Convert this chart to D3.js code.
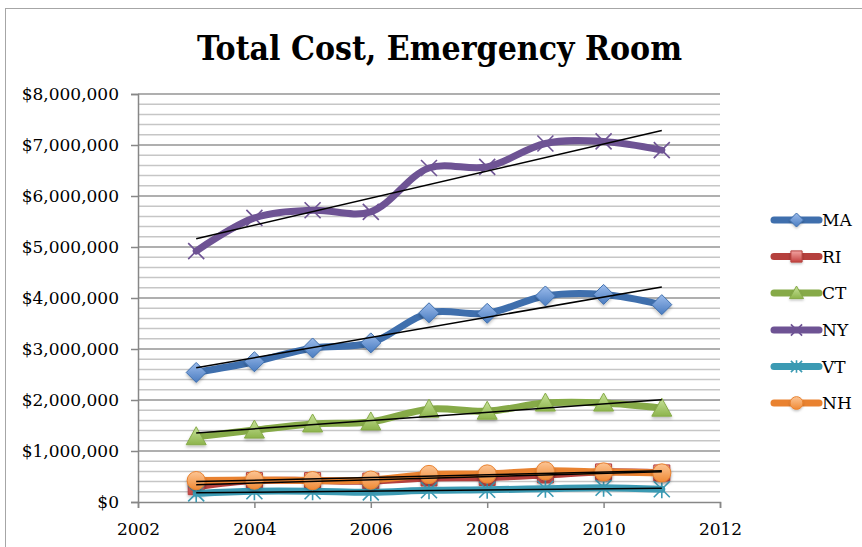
<!DOCTYPE html>
<html>
<head>
<meta charset="utf-8">
<script src="https://cdn.jsdelivr.net/npm/d3@7"></script>
<style>
  body { margin: 0; background: #fff; }
  text { font-family: "DejaVu Serif", "Liberation Serif", serif; }
</style>
</head>
<body>
<svg id="chart" width="862" height="547"></svg>
<script>
// ---- data ----
const years = [2003, 2004, 2005, 2006, 2007, 2008, 2009, 2010, 2011];
const seriesNames = ["MA", "RI", "CT", "NY", "VT", "NH"];
const maCost = [2540000, 2750000, 3020000, 3120000, 3710000, 3700000, 4040000, 4070000, 3870000];
const riCost = [300000, 420000, 420000, 410000, 470000, 480000, 530000, 590000, 570000];
const ctCost = [1280000, 1410000, 1530000, 1570000, 1820000, 1780000, 1940000, 1940000, 1840000];
const nyCost = [4920000, 5570000, 5720000, 5690000, 6550000, 6570000, 7030000, 7070000, 6900000];
const vtCost = [170000, 210000, 210000, 190000, 230000, 240000, 260000, 280000, 250000];
const nhCost = [420000, 430000, 420000, 430000, 540000, 550000, 610000, 590000, 570000];
const yTickValues = [0, 1000000, 2000000, 3000000, 4000000, 5000000, 6000000, 7000000, 8000000];
const xTickValues = [2002, 2004, 2006, 2008, 2010, 2012];
const chartTitle = "Total Cost, Emergency Room";

const seriesValues = [maCost, riCost, ctCost, nyCost, vtCost, nhCost];
const lineColors = ["#3f6fad", "#b5403d", "#86aa48", "#6e5394", "#3b9ab3", "#e98230"];
const fillLight = ["#9cbcec", "#f2a3a1", "#c8e39a", "#b9a7d6", "#9cd9ea", "#fcc595"];
const fillDark  = ["#4a7cc0", "#c4423f", "#8db44c", "#76599e", "#3ea2bb", "#f08a35"];
const markerTypes = ["diamond", "square", "triangle", "cross", "star", "circle"];

const svg = d3.select("#chart");

const x = d3.scaleLinear().domain([2002, 2012]).range([138, 720]);
const y = d3.scaleLinear().domain([0, 8000000]).range([502, 94]);

// gradients for marker fills
const defs = svg.append("defs");
seriesNames.forEach((name, i) => {
  const g = defs.append("linearGradient").attr("id", "grad" + name)
    .attr("x1", 0).attr("y1", 0).attr("x2", 0).attr("y2", 1);
  g.append("stop").attr("offset", "0%").attr("stop-color", fillLight[i]);
  g.append("stop").attr("offset", "100%").attr("stop-color", fillDark[i]);
});
const shadow = defs.append("filter").attr("id", "shadow")
  .attr("x", "-50%").attr("y", "-50%").attr("width", "200%").attr("height", "200%");
shadow.append("feDropShadow").attr("dx", 0).attr("dy", 2).attr("stdDeviation", 1.5)
  .attr("flood-color", "#000").attr("flood-opacity", 0.25);

// chart frame
svg.append("rect").attr("x", 5.5).attr("y", 8.5).attr("width", 900).attr("height", 600)
  .attr("fill", "#fff").attr("stroke", "#a6a6a6").attr("stroke-width", 1);

// title
svg.append("text")
  .attr("x", 439.5).attr("y", 59.5)
  .attr("text-anchor", "middle")
  .attr("font-size", 33).attr("font-weight", "bold")
  .attr("textLength", 485).attr("lengthAdjust", "spacingAndGlyphs")
  .style("font-family", "'DejaVu Serif Condensed', 'DejaVu Serif', serif")
  .text(chartTitle);

// gridlines: major every 1M, minor every 200k
const minorVals = d3.range(0, 8000001, 200000).filter(v => v % 1000000 !== 0);
svg.append("g").selectAll("line").data(minorVals).join("line")
  .attr("x1", x(2002)).attr("x2", x(2012))
  .attr("y1", d => y(d)).attr("y2", d => y(d))
  .attr("stroke", "#c6c6c6").attr("stroke-width", 1.5);
svg.append("g").selectAll("line").data(yTickValues.filter(v => v > 0)).join("line")
  .attr("x1", x(2002)).attr("x2", x(2012))
  .attr("y1", d => y(d)).attr("y2", d => y(d))
  .attr("stroke", "#959595").attr("stroke-width", 1.5);

// axes
const yAxis = d3.axisLeft(y).tickValues(yTickValues)
  .tickFormat(d => "$" + d3.format(",")(d)).tickSize(7).tickPadding(12);
const gy = svg.append("g").attr("transform", `translate(${x(2002)},0)`).call(yAxis);
const xAxis = d3.axisBottom(x).tickValues(xTickValues)
  .tickFormat(d3.format("d")).tickSize(6).tickPadding(15);
const gx = svg.append("g").attr("transform", `translate(0,${y(0)})`).call(xAxis);
[gx, gy].forEach(g => {
  g.select(".domain").attr("stroke", "#878787").attr("stroke-width", 1.5);
  g.selectAll(".tick line").attr("stroke", "#878787").attr("stroke-width", 1.5);
  g.selectAll(".tick text").attr("font-size", 17).attr("fill", "#000")
    .style("font-family", "'DejaVu Serif', serif");
});

// marker shapes
function markerPath(type) {
  switch (type) {
    case "diamond": return "M0,-10L10,0L0,10L-10,0Z";
    case "square": return "M-8,-8H8V8H-8Z";
    case "triangle": return "M0,-10L10,8H-10Z";
    case "circle": return d3.symbol(d3.symbolCircle, 260)();
    case "cross": return "M-8,-8L8,8M-8,8L8,-8";
    case "star": return "M-8,-8L8,8M-8,8L8,-8M0,-9V9";
  }
}
function drawMarker(g, i, cx, cy, k = 1) {
  const t = markerTypes[i];
  const p = g.append("path").attr("d", markerPath(t))
    .attr("transform", `translate(${cx},${cy}) scale(${k})`);
  if (t === "cross" || t === "star") {
    p.attr("fill", "none").attr("stroke", lineColors[i]).attr("stroke-width", 1.6 / k);
  } else {
    p.attr("fill", `url(#grad${seriesNames[i]})`)
      .attr("stroke", lineColors[i]).attr("stroke-width", 1 / k)
      .attr("filter", "url(#shadow)");
  }
}

// series lines with markers
const line = d3.line().x(d => x(d.year)).y(d => y(d.value)).curve(d3.curveCatmullRom.alpha(0.5));
seriesNames.forEach((name, i) => {
  const pts = years.map((yr, j) => ({ year: yr, value: seriesValues[i][j] }));
  const g = svg.append("g");
  g.append("path").datum(pts).attr("d", line)
    .attr("fill", "none").attr("stroke", lineColors[i])
    .attr("stroke-width", 7).attr("stroke-linecap", "round").attr("stroke-linejoin", "round");
  pts.forEach(p => drawMarker(g, i, x(p.year), y(p.value)));
});

// linear trend lines (least squares on each series)
seriesNames.forEach((name, i) => {
  const vals = seriesValues[i];
  const mx = d3.mean(years), my = d3.mean(vals);
  const sxy = d3.sum(years, (yr, j) => (yr - mx) * (vals[j] - my));
  const sxx = d3.sum(years, yr => (yr - mx) * (yr - mx));
  const slope = sxy / sxx, icpt = my - slope * mx;
  const x0 = years[0], x1 = years[years.length - 1];
  svg.append("line")
    .attr("x1", x(x0)).attr("y1", y(icpt + slope * x0))
    .attr("x2", x(x1)).attr("y2", y(icpt + slope * x1))
    .attr("stroke", "#000").attr("stroke-width", 1.5);
});

// legend
const legendY = [220, 256.5, 293, 330, 366.5, 403];
seriesNames.forEach((name, i) => {
  const g = svg.append("g").attr("transform", `translate(0,${legendY[i]})`);
  g.append("line").attr("x1", 774).attr("x2", 819).attr("y1", 0).attr("y2", 0)
    .attr("stroke", lineColors[i]).attr("stroke-width", 7).attr("stroke-linecap", "round");
  drawMarker(g, i, 796.5, 0, 0.7);
  g.append("text").attr("x", 822).attr("y", 6).attr("font-size", 17).attr("fill", "#000")
    .text(name);
});
</script>
</body>
</html>
